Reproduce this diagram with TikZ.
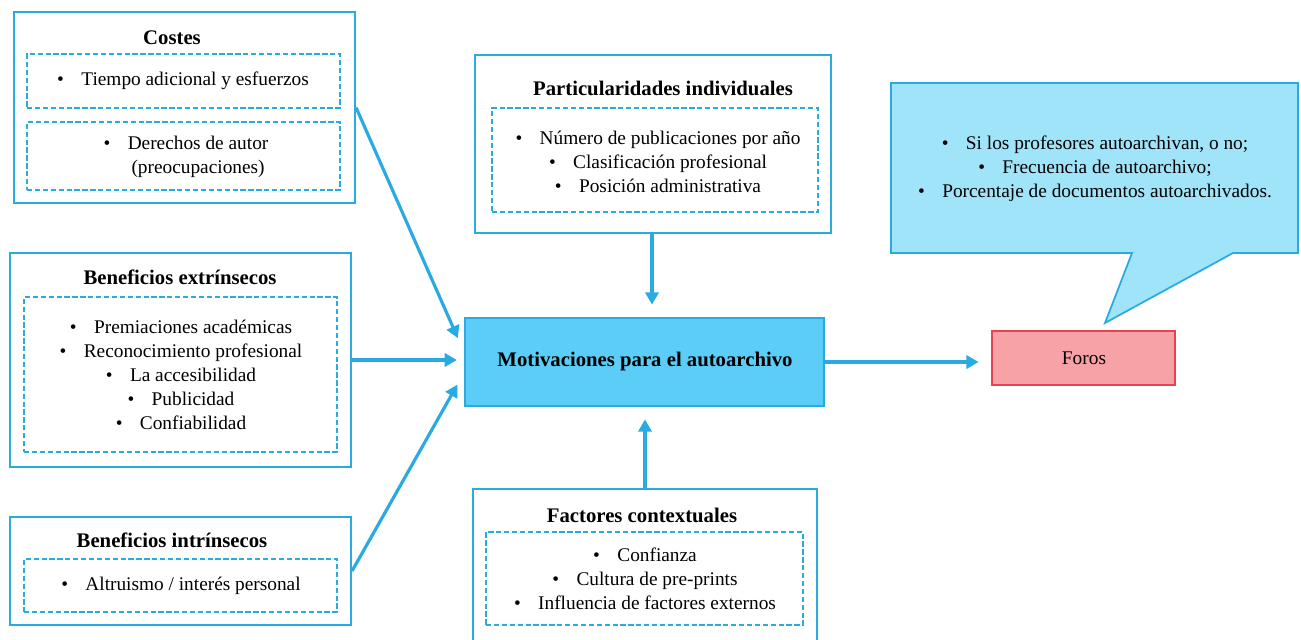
\documentclass[tikz,border=0pt]{standalone}
\usepackage{fontspec}
\setmainfont{Liberation Serif}
\usetikzlibrary{fit,calc,arrows.meta}

\definecolor{azul}{HTML}{29ABE2}
\definecolor{celeste}{HTML}{5BCDF6}
\definecolor{nube}{HTML}{A0E4F9}
\definecolor{rosa}{HTML}{F7A2A6}
\definecolor{rojo}{HTML}{E8414F}

\newcommand{\punto}{\textbullet\hspace{0.9em}}

\tikzset{
  marco/.style={draw=azul,line width=1.2pt,inner sep=0pt},
  punteado/.style={draw=azul,line width=0.8pt,dash pattern=on 3pt off 1.5pt,inner sep=0pt},
  titulo/.style={font=\fontsize{11.8}{14}\selectfont\bfseries},
  lista/.style={align=center,font=\fontsize{11}{13.6}\selectfont},
  flecha/.style={draw=azul,line width=1.8pt,-{Triangle[length=7pt,width=7.5pt]}},
}

\begin{document}
\begin{tikzpicture}[x=0.02cm,y=-0.02cm]
        \useasboundingbox (0,0) rectangle (1301,639);
        % costes
        \node[marco,fit={(14,12)(355,203)}] (costes) {};
        \node[titulo] (costestit) at (172,38) {Costes};
        \node[punteado,fit={(27,54)(340,108)}] (costesa) {};
        \node[lista] (costesatxt) at (183,81) {\punto Tiempo adicional y esfuerzos};
        \node[punteado,fit={(27,122)(340,190)}] (costesb) {};
        \node[lista] (costesbtxt) at (186,157) {\punto\begin{tabular}[t]{@{}c@{}}Derechos de autor\\(preocupaciones)\end{tabular}};
        % beneficios extrinsecos
        \node[marco,fit={(10,253)(351,467)}] (extr) {};
        \node[titulo] (extrtit) at (180,277) {Beneficios extrínsecos};
        \node[punteado,fit={(24,297)(337,452)}] (extrin) {};
        \node[lista] (extrtxt) at (181,375) {\punto Premiaciones académicas\\
          \punto Reconocimiento profesional\\ \punto La accesibilidad\\
          \punto Publicidad\\ \punto Confiabilidad};
        % beneficios intrinsecos
        \node[marco,fit={(10,517)(351,625)}] (intr) {};
        \node[titulo] (intrtit) at (172,540) {Beneficios intrínsecos};
        \node[punteado,fit={(24,559)(337,612)}] (intrin) {};
        \node[lista] (intrtxt) at (181,586) {\punto Altruismo / interés personal};
        % particularidades
        \node[marco,fit={(475,55)(831,233)}] (partic) {};
        \node[titulo] (partictit) at (663,88) {Particularidades individuales};
        \node[punteado,fit={(492,108)(818,212)}] (particin) {};
        \node[lista] (partictxt) at (658,162) {\punto Número de publicaciones por año\\
          \punto Clasificación profesional\\ \punto Posición administrativa};
        % motivaciones
        \node[marco,fill=celeste,fit={(465,318)(824,406)}] (motiv) {};
        \node[titulo] (motivtxt) at (645,362) {Motivaciones para el autoarchivo};
        % factores
        \node[marco,fit={(473,489)(817,645)}] (fact) {};
        \node[titulo] (facttit) at (642,515) {Factores contextuales};
        \node[punteado,fit={(486,532)(803,625)}] (factin) {};
        \node[lista] (facttxt) at (645,579) {\punto Confianza\\
          \punto Cultura de pre-prints\\ \punto Influencia de factores externos};
        % foros y nota
        \node[draw=rojo,line width=1.2pt,fill=rosa,inner sep=0pt,fit={(992,331)(1175,385)}] (foros) {};
        \node[lista] (forostxt) at (1084,358) {Foros};
        \draw[azul,line width=1pt,fill=nube] (891,83) -- (1298,83) -- (1298,253)
          -- (1233,253) -- (1105,323) -- (1132,253) -- (891,253) -- cycle;
        \node[lista] (notatxt) at (1095,169) {\punto Si los profesores autoarchivan, o no;\\
          \punto Frecuencia de autoarchivo;\\ \punto Porcentaje de documentos autoarchivados.};
        % flechas
        \draw[flecha,shorten >=3pt] (costes.east) -- ($(motiv.west)+(-4,-19)$);
        \draw[flecha,shorten >=4pt] (extr.east) -- (extr.east -| motiv.west);
        \draw[flecha,shorten >=3pt] (intr.east) -- ($(motiv.west)+(-4,18)$);
        \draw[flecha,shorten >=7pt] ($(partic.south)+(-1,0)$) -- ($(partic.south |- motiv.north)+(-1,0)$);
        \draw[flecha,shorten >=7pt] (fact.north) -- (fact.north |- motiv.south);
        \draw[flecha,shorten >=7pt] (motiv.east) -- (motiv.east -| foros.west);
      \end{tikzpicture}
\end{document}
